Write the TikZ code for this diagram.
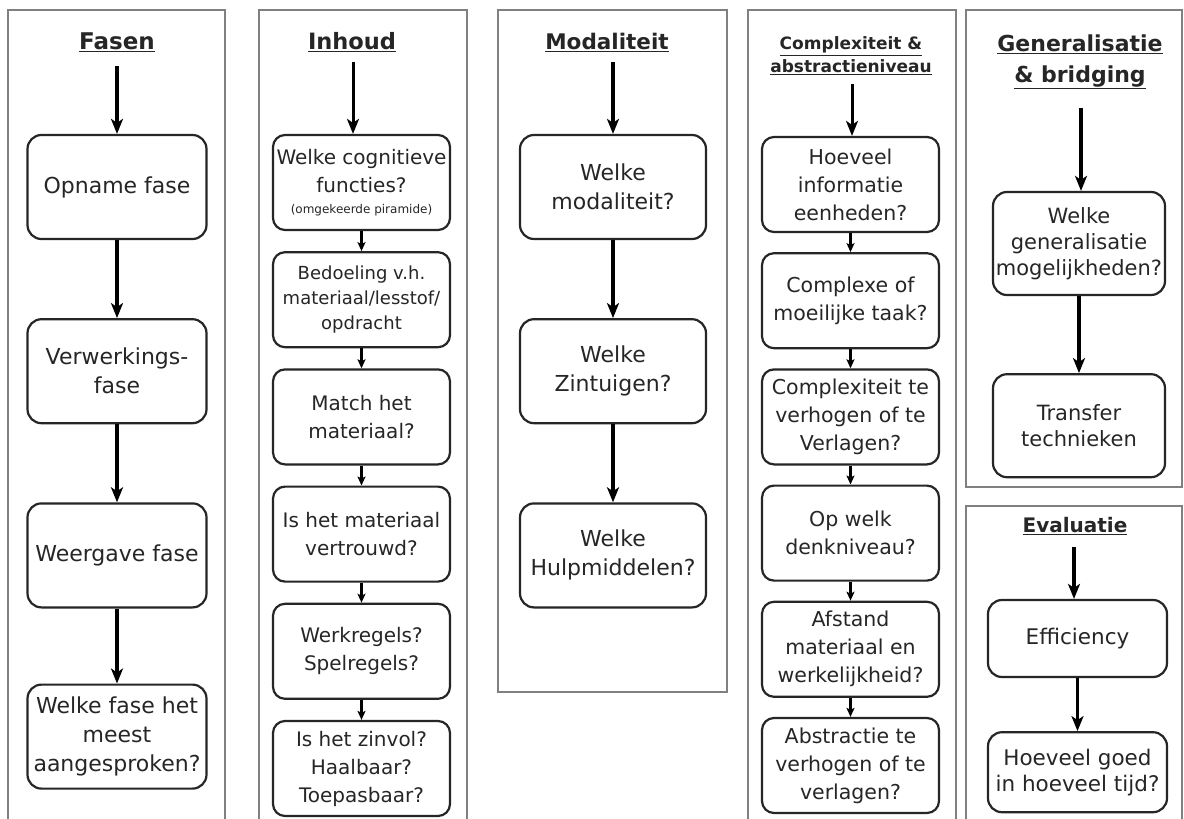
\documentclass[tikz,border=0pt]{standalone}
\usepackage{fontspec}
\setmainfont{DejaVu Sans}
\usepackage{tikz}
\usetikzlibrary{positioning,arrows.meta}

\definecolor{inkt}{HTML}{262626}
\definecolor{kader}{HTML}{808080}

\tikzset{
  paneel/.style={draw=kader, line width=1.6pt},
  kop/.style={font=\bfseries\fontsize{23}{30}\selectfont, text=inkt, align=center, inner sep=0pt},
  fasebox/.style={draw=inkt, line width=2.2pt, rounded corners=14pt, align=center,
    text=inkt, inner sep=0pt, minimum width=179pt, minimum height=104pt,
    font=\fontsize{22}{29}\selectfont},
  vraagbox/.style={fasebox, minimum width=177pt, minimum height=95pt, rounded corners=12pt,
    font=\fontsize{20}{28}\selectfont},
  dik/.style={-{Stealth[length=15pt,width=12pt,inset=4pt]}, draw=black, line width=3.6pt},
  dun/.style={-{Stealth[length=9pt,width=8pt,inset=2pt]}, draw=black, line width=2.2pt}
}

\begin{document}
\begin{tikzpicture}[x=1pt, y=-1pt]
\fill[white] (0,0) rectangle (1184,819);
\useasboundingbox (0,0) rectangle (1184,819);

% kaders
\draw[paneel] (8,830) |- (225,10) -- (225,830);
\draw[paneel] (259,830) |- (467,10) -- (467,830);
\draw[paneel] (498,10) rectangle (727,692);
\draw[paneel] (748,830) |- (956,10) -- (956,830);
\draw[paneel] (966,10) rectangle (1182,487);
\draw[paneel] (966,830) |- (1182,506) -- (1182,830);

% Fasen
\node[kop] (fasen) at (117,42) {\underline{Fasen}};
\coordinate (fa0) at (117,66);
\node[fasebox] (fa1) at (117,187) {Opname fase};
\node[fasebox, below=78pt of fa1] (fa2) {Verwerkings-\\fase};
\node[fasebox, below=78pt of fa2] (fa3) {Weergave fase};
\node[fasebox, below=75pt of fa3] (fa4) {Welke fase het\\meest\\aangesproken?};
\draw[dik] (fa0) -- (fa1);
\draw[dik] (fa1) -- (fa2);
\draw[dik] (fa2) -- (fa3);
\draw[dik] (fa3) -- (fa4);

% Inhoud
\node[kop, font=\bfseries\fontsize{22.5}{30}\selectfont] (inhoud) at (352,42) {\underline{Inhoud}};
\coordinate (in0) at (353,62);
\node[vraagbox] (in1) at (361.5,182.5)
  {Welke cognitieve\\functies?\\[-7pt]{\fontsize{12}{14}\selectfont(omgekeerde piramide)}};
\node[vraagbox, below=20pt of in1, font=\fontsize{18}{25}\selectfont] (in2)
  {Bedoeling v.h.\\materiaal/lesstof/\\opdracht};
\node[vraagbox, below=20pt of in2] (in3) {Match het\\materiaal?};
\node[vraagbox, below=20pt of in3] (in4) {Is het materiaal\\vertrouwd?};
\node[vraagbox, below=20pt of in4] (in5) {Werkregels?\\Spelregels?};
\node[vraagbox, below=20pt of in5] (in6) {Is het zinvol?\\Haalbaar?\\Toepasbaar?};
\draw[dik, line width=3pt] (in0) -- (in0 |- in1.north);
\foreach \a/\b in {in1/in2, in2/in3, in3/in4, in4/in5, in5/in6}
  \draw[dun] (\a) -- (\b);

% Modaliteit
\node[kop, font=\bfseries\fontsize{21.5}{30}\selectfont] (modal) at (607,42) {\underline{Modaliteit}};
\coordinate (mo0) at (613,62);
\node[fasebox, minimum width=186pt] (mo1) at (613,187) {Welke\\modaliteit?};
\node[fasebox, minimum width=186pt, below=78pt of mo1] (mo2) {Welke\\Zintuigen?};
\node[fasebox, minimum width=186pt, below=78pt of mo2] (mo3) {Welke\\Hulpmiddelen?};
\draw[dik] (mo0) -- (mo1);
\draw[dik] (mo1) -- (mo2);
\draw[dik] (mo2) -- (mo3);

% Complexiteit & abstractieniveau
\node[kop, font=\bfseries\fontsize{17}{23}\selectfont] (compl) at (851,56)
  {\underline{Complexiteit \&}\\\underline{abstractieniveau}};
\coordinate (co0) at (852,84);
\node[vraagbox, font=\fontsize{20.5}{28}\selectfont] (co1) at (850.5,184.5)
  {Hoeveel\\informatie\\eenheden?};
\node[vraagbox, font=\fontsize{20.5}{28}\selectfont, below=19pt of co1] (co2)
  {Complexe of\\moeilijke taak?};
\node[vraagbox, font=\fontsize{20.5}{28}\selectfont, below=19pt of co2] (co3)
  {Complexiteit te\\verhogen of te\\Verlagen?};
\node[vraagbox, font=\fontsize{20.5}{28}\selectfont, below=19pt of co3] (co4)
  {Op welk\\denkniveau?};
\node[vraagbox, font=\fontsize{20.5}{28}\selectfont, below=19pt of co4] (co5)
  {Afstand\\materiaal en\\werkelijkheid?};
\node[vraagbox, font=\fontsize{20.5}{28}\selectfont, below=19pt of co5] (co6)
  {Abstractie te\\verhogen of te\\verlagen?};
\draw[dik, line width=3pt] (co0) -- (co0 |- co1.north);
\foreach \a/\b in {co1/co2, co2/co3, co3/co4, co4/co5, co5/co6}
  \draw[dun] (\a) -- (\b);

% Generalisatie & bridging
\node[kop, font=\bfseries\fontsize{22}{31}\selectfont] (gener) at (1080,62)
  {\underline{Generalisatie}\\\underline{\& bridging}};
\coordinate (ge0) at (1081,108);
\node[fasebox, minimum width=172pt, minimum height=103pt, font=\fontsize{21}{26}\selectfont]
  (ge1) at (1079,243.5) {Welke\\generalisatie\\mogelijkheden?};
\node[fasebox, minimum width=172pt, minimum height=103pt, font=\fontsize{21}{26}\selectfont,
  below=77pt of ge1] (ge2) {Transfer\\technieken};
\draw[dik] (ge0) -- (ge0 |- ge1.north);
\draw[dik] (ge1) -- (ge2);

% Evaluatie
\node[kop, font=\bfseries\fontsize{20}{30}\selectfont] (evalu) at (1075,526) {\underline{Evaluatie}};
\coordinate (ev0) at (1074,547);
\node[fasebox, minimum height=77pt, font=\fontsize{21.5}{26}\selectfont] (ev1) at (1077.5,638.5)
  {Efficiency};
\node[fasebox, minimum height=80pt, font=\fontsize{21.5}{26}\selectfont, below=53pt of ev1] (ev2)
  {Hoeveel goed\\in hoeveel tijd?};
\draw[dik] (ev0) -- (ev0 |- ev1.north);
\draw[dik] (ev1) -- (ev2);
\end{tikzpicture}
\end{document}
